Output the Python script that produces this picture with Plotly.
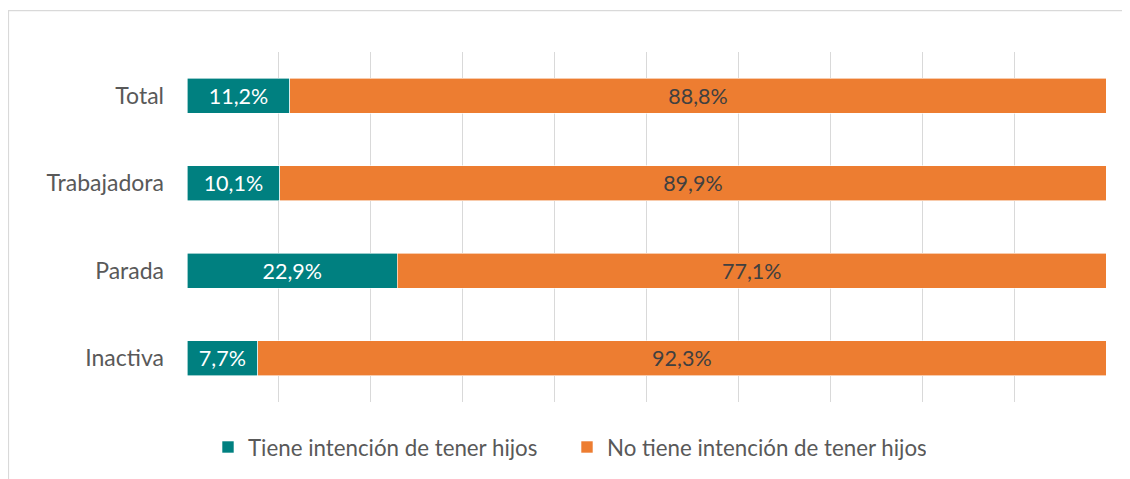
import plotly.graph_objects as go

categories = ["Total", "Trabajadora", "Parada", "Inactiva"]
tiene = [11.2, 10.1, 22.9, 7.7]
no_tiene = [88.8, 89.9, 77.1, 92.3]
series_names = ["Tiene intención de tener hijos", "No tiene intención de tener hijos"]

def fmt(v):
    return f"{v:.1f}%".replace(".", ",")

FONT = "Lato"
LABEL_SIZE = 21.5
AXIS_SIZE = 23
LEGEND_SIZE = 22.3

fig = go.Figure()
fig.add_trace(go.Bar(
    y=categories, x=tiene, orientation="h", name=series_names[0],
    marker=dict(color="#008080", line=dict(color="#ffffff", width=0.6)),
    text=[fmt(v) for v in tiene], textposition="inside", insidetextanchor="middle",
    textfont=dict(color="#ffffff", size=LABEL_SIZE, family=FONT), textangle=0,
    constraintext="none", hoverinfo="skip",
))
fig.add_trace(go.Bar(
    y=categories, x=no_tiene, orientation="h", name=series_names[1],
    marker=dict(color="#ED7D31", line=dict(color="#ffffff", width=0.6)),
    text=[fmt(v) for v in no_tiene], textposition="inside", insidetextanchor="middle",
    textfont=dict(color="#404040", size=LABEL_SIZE, family=FONT), textangle=0,
    constraintext="none", hoverinfo="skip",
))

# page offset of 8px (default body margin)
OFF = 8
W, H = 1130 - OFF, 479 - OFF
L, R, T, B = 187 - OFF, 24, 52 - OFF, 76
pw, ph = W - L - R, H - T - B

def px_x(x):  # page x -> paper
    return (x - OFF - L) / pw

def px_y(y):  # page y -> paper
    return (OFF + H - B - y) / ph

fig.update_layout(
    width=W, height=H, barmode="stack", bargap=0.6,
    margin=dict(l=L, r=R, t=T, b=B, pad=0),
    paper_bgcolor="white", plot_bgcolor="white",
    font=dict(family=FONT, size=AXIS_SIZE, color="#595959"),
    xaxis=dict(range=[0, 100], dtick=10, showticklabels=False, showgrid=True,
               gridcolor="#d9d9d9", gridwidth=1.3, zeroline=False, showline=False,
               fixedrange=True),
    yaxis=dict(autorange="reversed", showgrid=False, showline=False, zeroline=False,
               ticks="", ticklabelstandoff=22,
               tickfont=dict(size=AXIS_SIZE, color="#595959", family=FONT)),
    legend=dict(orientation="h", x=px_x(208), xanchor="left",
                y=px_y(447), yanchor="middle",
                font=dict(size=LEGEND_SIZE, color="#595959", family=FONT),
                itemwidth=30, entrywidth=314, traceorder="normal"),
    showlegend=True,
    shapes=[dict(type="rect", xref="paper", yref="paper",
                 x0=px_x(8.5), x1=px_x(1160),
                 y0=px_y(520), y1=px_y(10.5),
                 line=dict(color="#d9d9d9", width=1.2), fillcolor="rgba(0,0,0,0)",
                 layer="below")],
)

fig.write_html("out.html")
